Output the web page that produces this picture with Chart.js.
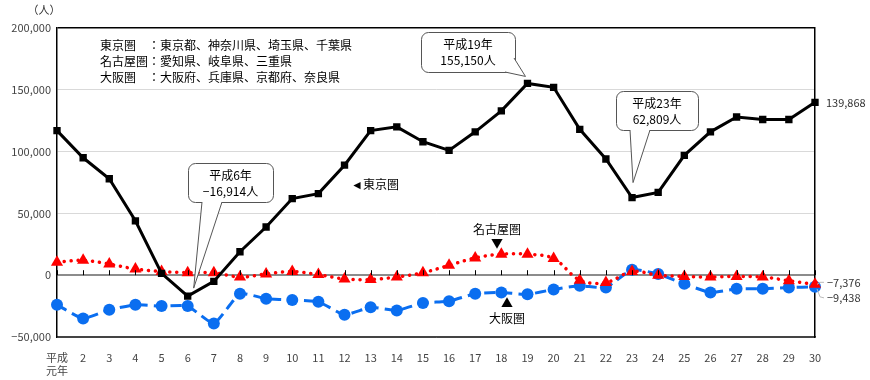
<!DOCTYPE html>
<html><head><meta charset="utf-8">
<script src="https://cdn.jsdelivr.net/npm/chart.js@4"></script>
<style>html,body{margin:0;padding:0;background:#fff}#wrap{width:870px;height:380px}</style>
</head><body><div id="wrap"><canvas id="c" width="870" height="380"></canvas></div>
<script>
const categories = [['平成','元年'],'2','3','4','5','6','7','8','9','10','11','12','13','14','15','16','17','18','19','20','21','22','23','24','25','26','27','28','29','30'];
const tokyo = [117000,95000,78000,44000,1500,-16914,-5000,19000,39000,62000,66000,89000,117000,120000,108000,101000,116000,133000,155150,152000,118000,94000,62809,67000,97000,116000,128000,126000,126000,139868];
const nagoya = [10500,12000,9000,5000,3000,2000,2000,-1500,1000,3000,500,-3000,-3500,-1500,2000,8000,14000,17000,17000,13500,-4000,-6000,3000,0,-1000,-1500,-1000,-1500,-4500,-7376];
const osaka = [-24000,-35000,-28000,-24000,-25000,-25000,-39000,-15000,-19000,-20000,-21500,-32000,-26000,-28500,-22500,-21000,-15000,-14000,-15500,-11500,-8500,-10000,4500,1000,-7000,-14000,-11000,-11000,-10000,-9438];
const yTicks = [-50000,0,50000,100000,150000,200000];
const legendLines = ['東京圏　：東京都、神奈川県、埼玉県、千葉県','名古屋圏：愛知県、岐阜県、三重県','大阪圏　：大阪府、兵庫県、京都府、奈良県'];

const FONT = '"Noto Sans CJK JP", "Noto Sans", sans-serif';
function fmt(v){return v.toLocaleString('en-US').replace('-','−');}

const annot = {
  id:'annot',
  afterDatasetsDraw(chart){
    const ctx = chart.ctx, x = chart.scales.x, y = chart.scales.y;
    ctx.save();
    ctx.strokeStyle = '#000'; ctx.lineWidth = 1;
    const y0 = y.getPixelForValue(0);
    for (let i=0;i<categories.length;i++){
      const px = Math.round(x.getPixelForValue(i))+0.5;
      ctx.beginPath(); ctx.moveTo(px,y0-5); ctx.lineTo(px,y0); ctx.stroke();
    }
    ctx.fillStyle = '#000'; ctx.font = '12px '+FONT; ctx.textBaseline='middle'; ctx.textAlign='left';
    legendLines.forEach((t,i)=>ctx.fillText(t, 100, 45+i*16));
    function callout(idx, val, bx, by, bw, bh, l1, l2, b1, b2){
      const tx = x.getPixelForValue(idx), ty = y.getPixelForValue(val);
      const tip = [tx+b2[0], ty+b2[1]];
      ctx.beginPath();
      ctx.roundRect(bx+0.5,by+0.5,bw,bh,7);
      ctx.fillStyle='#fff'; ctx.fill();
      ctx.strokeStyle='#555'; ctx.lineWidth=1; ctx.stroke();
      ctx.beginPath();
      ctx.moveTo(b1[0][0],b1[0][1]); ctx.lineTo(tip[0],tip[1]); ctx.lineTo(b1[1][0],b1[1][1]);
      ctx.fillStyle='#fff'; ctx.fill(); ctx.stroke();
      ctx.fillStyle='#000'; ctx.textAlign='center'; ctx.font='12px '+FONT;
      ctx.fillText(l1, bx+bw/2, by+12);
      ctx.fillText(l2, bx+bw/2, by+28);
    }
    callout(18, 155150, 421, 32, 94, 40, '平成19年', '155,150人', [[514,58],[505,72]], [-2,-7]);
    callout(5, -16914, 188, 163, 85, 39, '平成6年', '−16,914人', [[202,202],[222,202]], [6,-8]);
    callout(22, 62809, 616, 91, 82, 39, '平成23年', '62,809人', [[630,130],[650,130]], [1,-15]);
    ctx.font='12px '+FONT; ctx.fillStyle='#000'; ctx.textAlign='left';
    ctx.fillText('◄東京圏', 351, 184);
    ctx.textAlign='center';
    ctx.fillText('名古屋圏', 497, 229);
    ctx.fillText('▼', 497, 243);
    ctx.fillText('▲', 507, 303);
    ctx.fillText('大阪圏', 507, 318);
    ctx.textAlign='left'; ctx.fillStyle='#333'; ctx.font='11px '+FONT;
    const n = categories.length-1;
    const ex = x.getPixelForValue(n);
    const yn = y.getPixelForValue(nagoya[n]), yo = y.getPixelForValue(osaka[n]);
    ctx.fillText(fmt(tokyo[n]), ex+11, y.getPixelForValue(tokyo[n]));
    ctx.fillText(fmt(nagoya[n]), ex+12, yn-2);
    ctx.fillText(fmt(osaka[n]), ex+12, yo+11);
    ctx.strokeStyle='#bbb'; ctx.lineWidth=1;
    ctx.beginPath(); ctx.moveTo(ex+2, yn); ctx.lineTo(ex+5, yn-2); ctx.lineTo(ex+9, yn-2); ctx.stroke();
    ctx.beginPath(); ctx.moveTo(ex+2, yo+2); ctx.lineTo(ex+5, yo+10); ctx.lineTo(ex+9, yo+11); ctx.stroke();
    ctx.fillStyle='#333'; ctx.font='11px '+FONT; ctx.textAlign='center';
    ctx.fillText('（人）', 44, 10);
    ctx.restore();
  }
};

new Chart(document.getElementById('c'), {
  type:'line',
  data:{
    labels:categories,
    datasets:[
      {label:'東京圏', data:tokyo, borderColor:'#000', backgroundColor:'#000', borderWidth:3, pointStyle:'rect', pointRadius:5.2, pointBorderWidth:0, tension:0, order:0},
      {label:'名古屋圏', data:nagoya, borderColor:'#ff0000', backgroundColor:'#ff0000', borderWidth:3.5, borderDash:[0.1,7], borderCapStyle:'round', pointStyle:'triangle', pointRadius:7, pointBorderWidth:0, tension:0.35, order:1},
      {label:'大阪圏', data:osaka, borderColor:'#0a6ef0', backgroundColor:'#0a6ef0', borderWidth:3, borderDash:[11,6], pointStyle:'circle', pointRadius:6, pointBorderWidth:0, tension:0.15, order:2}
    ]
  },
  options:{
    responsive:false, animation:false, devicePixelRatio:1,
    layout:{padding:{left:0,right:55,top:28,bottom:0}},
    plugins:{legend:{display:false}, tooltip:{enabled:false}},
    scales:{
      x:{
        offset:false,
        grid:{display:false},
        border:{display:true, color:'#444', width:1.5},
        ticks:{color:'#444', font:{family:FONT,size:11}, maxRotation:0, autoSkip:false, padding:6},
        afterFit(s){s.height=43;}
      },
      y:{
        min:-50000, max:200000,
        afterBuildTicks(s){s.ticks = yTicks.map(v=>({value:v}));},
        grid:{
          color(c){const v=c.tick.value; if(v===0) return '#8c8c8c'; if(v===200000) return '#000'; if(v===-50000) return '#444'; return '#d9d9d9';},
          lineWidth(c){const v=c.tick.value; return v===0?2:(v===200000?1.5:1);},
          drawTicks:false
        },
        border:{display:true, color:'#000', width:1.5},
        ticks:{color:'#444', font:{family:FONT,size:11}, padding:6, callback:(v)=>fmt(v)},
        afterFit(s){s.width=57;}
      },
      y2:{
        position:'right', min:-50000, max:200000,
        grid:{drawOnChartArea:false, drawTicks:false},
        ticks:{display:false},
        border:{display:true, color:'#000', width:1.5},
        afterFit(s){s.width=0;}
      }
    }
  },
  plugins:[annot]
});
</script></body></html>
